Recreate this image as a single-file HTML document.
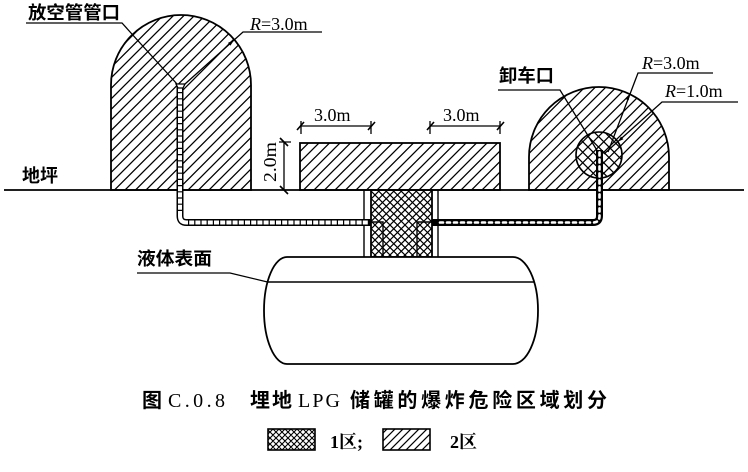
<!DOCTYPE html>
<html><head><meta charset="utf-8"><style>
html,body{margin:0;padding:0;background:#fff;}
svg{display:block;}
.cj{font-family:"Liberation Sans","Noto Sans CJK SC",sans-serif;font-weight:bold;font-size:18px;fill:#000;}
.sf{font-family:"Liberation Serif","Noto Serif CJK SC",serif;font-size:18px;fill:#000;}
.cap{font-size:20px;}
</style></head><body>
<svg width="748" height="472" viewBox="0 0 748 472" xmlns="http://www.w3.org/2000/svg">
<defs>
<pattern id="h" patternUnits="userSpaceOnUse" width="10.5" height="10.5">
<path d="M-1,1 L1,-1 M0,10.5 L10.5,0 M9.5,11.5 L11.5,9.5" stroke="#000" stroke-width="1.3"/>
</pattern>
<pattern id="bs" patternUnits="userSpaceOnUse" width="10.5" height="10.5">
<path d="M-1,9.5 L1,11.5 M0,0 L10.5,10.5 M9.5,-1 L11.5,1" stroke="#000" stroke-width="1.3"/>
</pattern>
<pattern id="x" patternUnits="userSpaceOnUse" width="7.5" height="7.5">
<path d="M-1,1 L1,-1 M0,7.5 L7.5,0 M6.5,8.5 L8.5,6.5 M-1,6.5 L1,8.5 M0,0 L7.5,7.5 M6.5,-1 L8.5,1" stroke="#000" stroke-width="1.2"/>
</pattern>
<pattern id="xl" patternUnits="userSpaceOnUse" width="6" height="6">
<path d="M-1,1 L1,-1 M0,6 L6,0 M5,7 L7,5 M-1,5 L1,7 M0,0 L6,6 M5,-1 L7,1" stroke="#000" stroke-width="1.1"/>
</pattern>
<pattern id="hl" patternUnits="userSpaceOnUse" width="8" height="8">
<path d="M-1,1 L1,-1 M0,8 L8,0 M7,9 L9,7" stroke="#000" stroke-width="1.2"/>
</pattern>
</defs>

<!-- left hazard zone -->
<path d="M111,190 V85 A70,70 0 0 1 251,85 V190 Z" fill="url(#h)" stroke="#000" stroke-width="1.8"/>
<!-- right hazard zone -->
<path d="M529,190 V157 A70,70 0 0 1 669,157 V190 Z" fill="url(#h)" stroke="#000" stroke-width="1.8"/>
<!-- small circle -->
<circle cx="599" cy="155" r="23" fill="url(#bs)" stroke="#000" stroke-width="1.6"/>
<!-- middle rect -->
<rect x="300" y="143" width="200" height="47" fill="url(#h)" stroke="#000" stroke-width="1.8"/>

<!-- ground line -->
<line x1="4" y1="190" x2="744" y2="190" stroke="#000" stroke-width="1.8"/>

<!-- column -->
<line x1="364" y1="190" x2="364" y2="257" stroke="#000" stroke-width="1.4"/>
<line x1="438" y1="190" x2="438" y2="257" stroke="#000" stroke-width="1.4"/>
<rect x="371" y="190" width="61" height="67" fill="url(#x)" stroke="#000" stroke-width="1.8"/>
<path d="M371,222 H383 V257 M432,222 H417 V257" fill="none" stroke="#000" stroke-width="1.4"/>

<!-- left pipe -->
<path d="M180,86 V216 Q180,222.5 186.5,222.5 H371" fill="none" stroke="#000" stroke-width="7"/>
<path d="M180,88 V216 Q180,222.5 186.5,222.5 H369" fill="none" stroke="#fff" stroke-width="4"/>
<path d="M180,92 V216 M188,222.5 H369" fill="none" stroke="#000" stroke-width="4" stroke-dasharray="1.2 5"/>
<polygon points="176,84 185,84 183,88 178,88" fill="#fff" stroke="#000" stroke-width="1.3"/>

<!-- right pipe -->
<path d="M432,222.5 H593 Q599.5,222.5 599.5,216 V150" fill="none" stroke="#000" stroke-width="7"/>
<path d="M440,222.5 H593 Q599.5,222.5 599.5,216 V152" fill="none" stroke="#fff" stroke-width="2.6" stroke-dasharray="3 4" stroke-linecap="round"/>

<!-- tank -->
<path d="M287,257 H513 A25,53.5 0 0 1 513,364 H287 A23,53.5 0 0 1 287,257 Z" fill="#fff" stroke="#000" stroke-width="1.8"/>
<line x1="267.5" y1="282" x2="534" y2="282" stroke="#000" stroke-width="1.5"/>

<!-- labels & leaders -->
<text class="cj" x="28" y="19" textLength="92" lengthAdjust="spacingAndGlyphs">放空管管口</text>
<path d="M26,23 H122 L177,84" fill="none" stroke="#000" stroke-width="1.3"/>

<text class="sf" x="250" y="30"><tspan font-style="italic">R</tspan>=3.0m</text>
<path d="M322,32 H243 L185,84" fill="none" stroke="#000" stroke-width="1.3"/>
<polygon points="234.4,39.6 230.4,45.6 228,42.9" fill="#000"/>

<text class="cj" x="22" y="182" textLength="36" lengthAdjust="spacingAndGlyphs">地坪</text>

<text class="cj" x="137" y="265" textLength="75" lengthAdjust="spacingAndGlyphs">液体表面</text>
<path d="M137,273 H230 L267.5,282" fill="none" stroke="#000" stroke-width="1.3"/>

<text class="cj" x="499" y="82" textLength="55" lengthAdjust="spacingAndGlyphs">卸车口</text>
<path d="M498,90 H560 L598,152" fill="none" stroke="#000" stroke-width="1.3"/>

<text class="sf" x="642" y="69"><tspan font-style="italic">R</tspan>=3.0m</text>
<path d="M713,73 H638 L608,152" fill="none" stroke="#000" stroke-width="1.3"/>
<polygon points="629.8,94.1 625.3,99 628.7,100.2" fill="#000"/>

<text class="sf" x="665" y="97"><tspan font-style="italic">R</tspan>=1.0m</text>
<path d="M738,102 H662 L604,154" fill="none" stroke="#000" stroke-width="1.3"/>
<polygon points="617.8,141.8 621,136.5 623.4,139.2" fill="#000"/>

<!-- dimensions -->
<text class="sf" x="314" y="121">3.0m</text>
<text class="sf" x="443" y="121">3.0m</text>
<path d="M300,126 H371 M301,121 V134 M371,121 V134 M430,126 H500 M430,121 V134 M500,121 V134" fill="none" stroke="#000" stroke-width="1.3"/>
<path d="M297,130 L304,122 M368,130 L375,122 M427,130 L434,122 M497,130 L504,122" stroke="#000" stroke-width="1.6"/>

<path d="M284,142 V190 M279,142 H291" fill="none" stroke="#000" stroke-width="1.3"/>
<path d="M280,138 L288,146 M280,186 L288,194" stroke="#000" stroke-width="1.6"/>
<text class="sf" transform="translate(276,182) rotate(-90)" x="0" y="0" textLength="40" lengthAdjust="spacingAndGlyphs">2.0m</text>

<!-- caption -->
<text class="cj cap" x="142" y="407" font-weight="normal">图</text>
<text class="sf cap" x="168" y="407" textLength="57" lengthAdjust="spacing">C.0.8</text>
<text class="cj cap" x="250" y="407" textLength="42" lengthAdjust="spacing">埋地</text>
<text class="sf cap" x="298" y="407" textLength="42" lengthAdjust="spacing">LPG</text>
<text class="cj cap" x="350" y="407" textLength="257" lengthAdjust="spacing">储罐的爆炸危险区域划分</text>

<!-- legend -->
<rect x="268" y="429" width="47" height="21" fill="url(#xl)" stroke="#000" stroke-width="1.6"/>
<text class="sf" x="330" y="448" font-weight="bold">1区;</text>
<rect x="383" y="429" width="47" height="21" fill="url(#hl)" stroke="#000" stroke-width="1.6"/>
<text class="sf" x="450" y="448" font-weight="bold">2区</text>
</svg>
</body></html>
